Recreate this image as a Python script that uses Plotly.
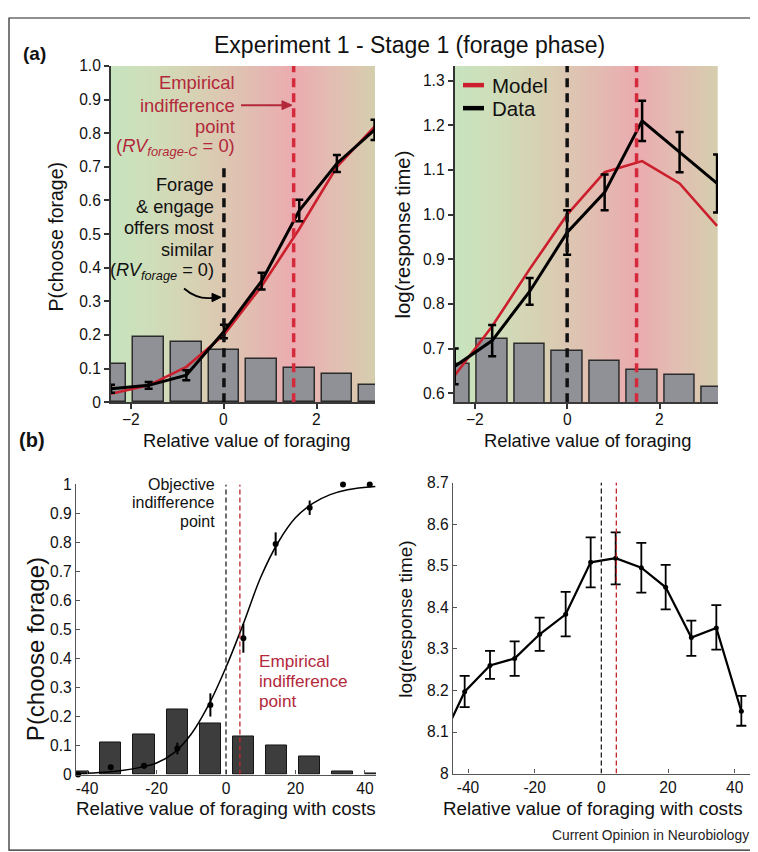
import numpy as np
import plotly.graph_objects as go

W, H = 758, 852


def fx(px):
    return px / W


def fy(py):
    return 1 - py / H


FONT = "Liberation Sans, Arial, Helvetica, sans-serif"
RED_TXT = "#b3283a"
RED_LINE = "#d42a3b"

# ---------------- data ----------------
# (a) Experiment 1 - Stage 1
rv_bins = [-2.43, -1.62, -0.81, 0.0, 0.81, 1.62, 2.43, 3.24]
rv_tick_vals = [-2, 0, 2]
rv_tick_text = ["\u22122", "0", "2"]

choice_hist = [0.115, 0.195, 0.178, 0.155, 0.128, 0.102, 0.085, 0.05]
choice_data = [0.04, 0.05, 0.08, 0.21, 0.36, 0.57, 0.71, 0.81]
choice_err = [0.012, 0.01, 0.015, 0.02, 0.025, 0.032, 0.025, 0.03]
choice_model = [0.025, 0.05, 0.105, 0.20, 0.345, 0.515, 0.70, 0.82]

rt_hist = [0.665, 0.722, 0.71, 0.695, 0.672, 0.652, 0.64, 0.613]
rt_data = [0.66, 0.718, 0.828, 0.96, 1.05, 1.21, 1.14, 1.07]
rt_err = [0.04, 0.035, 0.03, 0.05, 0.04, 0.045, 0.045, 0.065]
rt_model = [0.64, 0.75, 0.878, 1.0, 1.095, 1.12, 1.07, 0.975]

objective_rv = 0.0
empirical_rv = 1.5

choice_ticks = [0, 0.1, 0.2, 0.3, 0.4, 0.5, 0.6, 0.7, 0.8, 0.9, 1.0]
choice_tick_text = ["0", "0.1", "0.2", "0.3", "0.4", "0.5", "0.6", "0.7", "0.8", "0.9", "1.0"]
rt_ticks = [0.6, 0.7, 0.8, 0.9, 1.0, 1.1, 1.2, 1.3]
rt_tick_text = ["0.6", "0.7", "0.8", "0.9", "1.0", "1.1", "1.2", "1.3"]

# (b) with costs
cost_bins = [-42.7, -33.2, -23.6, -14.0, -4.5, 5.0, 14.5, 24.0, 33.5, 43.0]
cost_hist = [0.012, 0.11, 0.138, 0.225, 0.177, 0.132, 0.101, 0.064, 0.012, 0.005]

cost_choice_x = [-42.6, -33.2, -23.6, -14.0, -4.5, 5.0, 14.3, 24.1, 33.7, 41.4]
cost_choice = [0.0, 0.025, 0.03, 0.09, 0.24, 0.47, 0.795, 0.92, 1.0, 1.0]
cost_choice_err = [0.0, 0.005, 0.01, 0.02, 0.04, 0.05, 0.04, 0.025, 0.0, 0.0]

fit_x = [-43, -35, -30, -25, -20, -15, -10, -5, 0, 5, 10, 15, 20, 25, 30, 35, 43]
fit_y = [0.003, 0.008, 0.014, 0.024, 0.04, 0.075, 0.14, 0.24, 0.37, 0.52,
         0.68, 0.80, 0.885, 0.935, 0.965, 0.982, 0.993]

cost_rt_x = [-48.5, -41.0, -33.4, -26.0, -18.5, -10.7, -3.2, 4.3, 12.0, 19.3, 27.0, 34.5, 42.0]
cost_rt = [8.07, 8.197, 8.26, 8.277, 8.335, 8.383, 8.508, 8.518, 8.495, 8.448, 8.327, 8.35, 8.15]
cost_rt_hi = [8.07, 8.235, 8.295, 8.318, 8.375, 8.437, 8.568, 8.58, 8.555, 8.502, 8.368, 8.405, 8.187]
cost_rt_lo = [8.07, 8.16, 8.228, 8.235, 8.295, 8.33, 8.448, 8.455, 8.435, 8.395, 8.283, 8.298, 8.115]

objective_cost = 0.0
empirical_cost_choice = 4.0
empirical_cost_rt = 4.5

cost_tick_vals = [-40, -20, 0, 20, 40]
cost_tick_text = ["-40", "-20", "0", "20", "40"]
pc_ticks = [0, 0.1, 0.2, 0.3, 0.4, 0.5, 0.6, 0.7, 0.8, 0.9, 1.0]
pc_tick_text = ["0", "0.1", "0.2", "0.3", "0.4", "0.5", "0.6", "0.7", "0.8", "0.9", "1"]
lrt_ticks = [8.0, 8.1, 8.2, 8.3, 8.4, 8.5, 8.6, 8.7]
lrt_tick_text = ["8", "8.1", "8.2", "8.3", "8.4", "8.5", "8.6", "8.7"]

# ---------------- axis ranges ----------------
RV_RANGE = [-2.43, 3.25]
RV_RANGE2 = [-2.43, 3.26]
CHOICE_RANGE = [0, 1.0]
RT_RANGE = [0.58, 1.333]
COST_RANGE_L = [-43.2, 43.2]
COST_RANGE_R = [-44.5, 44.6]
PC_RANGE = [0, 1.0]
LRT_RANGE = [8.0, 8.7]

fig = go.Figure()

# ---------------- background gradients (style) ----------------
stops = [(-2.43, "rgb(198,228,190)"), (-1.6, "rgb(207,222,186)"), (-0.6, "rgb(215,209,179)"),
         (0.4, "rgb(224,192,177)"), (1.5, "rgb(235,171,176)"), (2.4, "rgb(226,190,178)"),
         (3.26, "rgb(213,206,174)")]
smin, smax = stops[0][0], stops[-1][0]
cscale = [[(v - smin) / (smax - smin), c] for v, c in stops]
edges = np.linspace(smin, smax, 161)
centers = (edges[:-1] + edges[1:]) / 2
for xa, ya, yr in [("x", "y", CHOICE_RANGE), ("x2", "y2", RT_RANGE)]:
    fig.add_trace(go.Heatmap(x=edges, y=yr, z=[centers], colorscale=cscale, zmin=smin, zmax=smax,
                             showscale=False, hoverinfo="skip", xaxis=xa, yaxis=ya))

# ---------------- (a) traces ----------------
bar_top = dict(color="#8f9197", line=dict(color="#2b2b2b", width=1.5))
fig.add_trace(go.Bar(x=rv_bins, y=choice_hist, width=0.66, marker=bar_top, xaxis="x", yaxis="y"))
fig.add_trace(go.Scatter(x=rv_bins, y=choice_model, mode="lines", line=dict(color="#cc1f2d", width=2.6),
                         xaxis="x", yaxis="y"))
fig.add_trace(go.Scatter(x=rv_bins, y=choice_data, mode="lines", line=dict(color="black", width=3),
                         error_y=dict(type="data", array=choice_err, color="black", thickness=2.5, width=4),
                         xaxis="x", yaxis="y"))

fig.add_trace(go.Bar(x=rv_bins, y=rt_hist, width=0.66, marker=bar_top, xaxis="x2", yaxis="y2"))
fig.add_trace(go.Scatter(x=rv_bins, y=rt_model, mode="lines", line=dict(color="#cc1f2d", width=2.6),
                         xaxis="x2", yaxis="y2"))
fig.add_trace(go.Scatter(x=rv_bins, y=rt_data, mode="lines", line=dict(color="black", width=3),
                         error_y=dict(type="data", array=rt_err, color="black", thickness=2.5, width=4),
                         xaxis="x2", yaxis="y2"))

# ---------------- (b) traces ----------------
fig.add_trace(go.Bar(x=cost_bins, y=cost_hist, width=6.2,
                     marker=dict(color="#3d3d3d", line=dict(color="#151515", width=1)),
                     xaxis="x3", yaxis="y3"))
fig.add_trace(go.Scatter(x=fit_x, y=fit_y, mode="lines", line=dict(color="black", width=1.5, shape="spline"),
                         xaxis="x3", yaxis="y3"))
fig.add_trace(go.Scatter(x=cost_choice_x, y=cost_choice, mode="markers", cliponaxis=False,
                         marker=dict(color="black", size=6),
                         error_y=dict(type="data", array=cost_choice_err, color="black", thickness=2, width=0),
                         xaxis="x3", yaxis="y3"))

err_up = [h - v for h, v in zip(cost_rt_hi, cost_rt)]
err_dn = [v - l for v, l in zip(cost_rt, cost_rt_lo)]
fig.add_trace(go.Scatter(x=cost_rt_x, y=cost_rt, mode="lines+markers",
                         line=dict(color="black", width=2.2), marker=dict(color="black", size=5),
                         error_y=dict(type="data", array=err_up, arrayminus=err_dn, color="black",
                                      thickness=1.8, width=5),
                         xaxis="x4", yaxis="y4"))

# ---------------- axes ----------------
def top_x(domain, rng, anchor):
    return dict(domain=domain, range=rng, anchor=anchor, tickvals=rv_tick_vals, ticktext=rv_tick_text,
                showticklabels=False,
                ticks="outside", ticklen=5, tickwidth=1.5, tickcolor="#333", showline=True,
                linecolor="#3a3a3a", linewidth=1.5, showgrid=False, zeroline=False,
                tickfont=dict(size=15.6, color="#111"))


def top_y(domain, rng, anchor, tv, tt):
    return dict(domain=domain, range=rng, anchor=anchor, tickvals=tv, ticktext=tt,
                ticks="outside", ticklen=5, tickwidth=1.5, tickcolor="#333", showline=True,
                linecolor="#333", linewidth=2, showgrid=False, zeroline=False,
                tickfont=dict(size=15.6, color="#111"))


def bot_x(domain, rng, anchor):
    return dict(domain=domain, range=rng, anchor=anchor, tickvals=cost_tick_vals, ticktext=cost_tick_text,
                ticks="inside", ticklen=4, tickcolor="#555", showline=True, linecolor="#555", linewidth=1.2,
                showgrid=False, zeroline=False, tickfont=dict(size=15.6, color="#111"))


def bot_y(domain, rng, anchor, tv, tt):
    return dict(domain=domain, range=rng, anchor=anchor, tickvals=tv, ticktext=tt,
                ticks="inside", ticklen=4, tickcolor="#555", showline=True, linecolor="#555", linewidth=1.2,
                showgrid=False, zeroline=False, tickfont=dict(size=15.6, color="#111"))


top_dom_y = [fy(393), fy(50)]
fig.update_layout(
    xaxis=top_x([fx(103), fx(367)], RV_RANGE, "y"),
    yaxis=top_y(top_dom_y, CHOICE_RANGE, "x", choice_ticks, choice_tick_text),
    xaxis2=top_x([fx(446.7), fx(710)], RV_RANGE2, "y2"),
    yaxis2=top_y(top_dom_y, RT_RANGE, "x2", rt_ticks, rt_tick_text),
    xaxis3=bot_x([fx(68), fx(368)], COST_RANGE_L, "y3"),
    yaxis3=bot_y([fy(773), fy(477)], PC_RANGE, "x3", pc_ticks, pc_tick_text),
    xaxis4=bot_x([fx(445), fx(742)], COST_RANGE_R, "y4"),
    yaxis4=bot_y([fy(772), fy(475)], LRT_RANGE, "x4", lrt_ticks, lrt_tick_text),
)

# ---------------- reference lines ----------------
shapes = []
thick = dict(width=3.5, dash="9px,6px")
shapes.append(dict(type="line", xref="x", yref="y", x0=objective_rv, x1=objective_rv, y0=0, y1=0.7,
                   line=dict(color="#111", **thick)))
shapes.append(dict(type="line", xref="x", yref="y", x0=empirical_rv, x1=empirical_rv, y0=0, y1=1.0,
                   line=dict(color=RED_LINE, **thick)))
shapes.append(dict(type="line", xref="x2", yref="y2", x0=objective_rv, x1=objective_rv,
                   y0=RT_RANGE[0], y1=RT_RANGE[1], line=dict(color="#111", **thick)))
shapes.append(dict(type="line", xref="x2", yref="y2", x0=empirical_rv, x1=empirical_rv,
                   y0=RT_RANGE[0], y1=RT_RANGE[1], line=dict(color=RED_LINE, **thick)))
thin = dict(width=1.3, dash="5px,3px")
shapes.append(dict(type="line", xref="x3", yref="y3", x0=objective_cost, x1=objective_cost, y0=0, y1=1,
                   line=dict(color="#222", **thin)))
shapes.append(dict(type="line", xref="x3", yref="y3", x0=empirical_cost_choice, x1=empirical_cost_choice,
                   y0=0, y1=1, line=dict(color="#c0262f", **thin)))
shapes.append(dict(type="line", xref="x4", yref="y4", x0=objective_cost, x1=objective_cost, y0=8, y1=8.7,
                   line=dict(color="#222", **thin)))
shapes.append(dict(type="line", xref="x4", yref="y4", x0=empirical_cost_rt, x1=empirical_cost_rt,
                   y0=8, y1=8.7, line=dict(color="#c0262f", **thin)))

# legend samples (manual)
shapes.append(dict(type="line", xref="paper", yref="paper", x0=fx(455), x1=fx(476), y0=fy(69.5), y1=fy(69.5),
                   line=dict(color="#cc1f2d", width=4.5)))
shapes.append(dict(type="line", xref="paper", yref="paper", x0=fx(455), x1=fx(476), y0=fy(93), y1=fy(93),
                   line=dict(color="black", width=4.5)))


def ppath(points, close=False):
    s = " ".join(("M" if i == 0 else "L") + f" {fx(x)},{fy(y)}" for i, (x, y) in enumerate(points))
    return s + (" Z" if close else "")


# red straight arrow
shapes.append(dict(type="line", xref="paper", yref="paper", x0=fx(233), x1=fx(276), y0=fy(90), y1=fy(90),
                   line=dict(color=RED_TXT, width=2)))
shapes.append(dict(type="path", xref="paper", yref="paper",
                   path=ppath([(284, 90), (274, 85.5), (274, 94.5)], True),
                   fillcolor=RED_TXT, line=dict(color=RED_TXT, width=1)))

# curved black arrow
p0, c0, p1 = (176, 277), (190, 289), (205, 286.5)
shapes.append(dict(type="path", xref="paper", yref="paper",
                   path=f"M {fx(p0[0])},{fy(p0[1])} Q {fx(c0[0])},{fy(c0[1])} {fx(p1[0])},{fy(p1[1])}",
                   line=dict(color="black", width=1.8)))
shapes.append(dict(type="path", xref="paper", yref="paper",
                   path=ppath([(213, 286), (204, 282), (204, 290.5)], True),
                   fillcolor="black", line=dict(color="black", width=1)))

# frame
shapes.append(dict(type="rect", xref="paper", yref="paper", x0=fx(1), x1=fx(753), y0=fy(850), y1=fy(1),
                   line=dict(color="#222", width=1.2)))

# ---------------- annotations ----------------
ann = []


def txt(x, y, s, size, color="#111", xanchor="center", angle=0):
    ann.append(dict(x=fx(x), y=fy(y), xref="paper", yref="paper", text=s, showarrow=False,
                    xanchor=xanchor, yanchor="middle", textangle=angle,
                    font=dict(family=FONT, size=size, color=color)))


# top x tick labels (placed on the data axes)
for xa in ["x", "x2"]:
    for v, t in zip(rv_tick_vals, rv_tick_text):
        ann.append(dict(x=v, y=fy(411), xref=xa, yref="paper", text=t, showarrow=False,
                        xanchor="center", yanchor="middle", font=dict(family=FONT, size=15.6, color="#111")))

txt(401, 29, "Experiment 1 - Stage 1 (forage phase)", 23)
txt(26, 37, "<b>(a)</b>", 19)
txt(24, 432, "<b>(b)</b>", 20)

# axis titles
txt(48, 224, "P(choose forage)", 19.5, angle=-90)
txt(395, 222, "log(response time)", 20.3, angle=-90)
txt(239, 432, "Relative value of foraging", 18.4)
txt(580, 432, "Relative value of foraging", 18.4)
txt(27, 645, "P(choose forage)", 24, angle=-90)
txt(398, 615, "log(response time)", 19, angle=-90)
txt(218, 808, "Relative value of foraging with costs", 18.8)
txt(585, 808, "Relative value of foraging with costs", 18.8)

# top-left red annotation
for yy, s in [(66.7, "Empirical"), (90, "indifference"), (111.7, "point"),
              (133, "(<i>RV</i><sub><i>forage-C</i></sub> = 0)")]:
    txt(229, yy, s, 18.4, RED_TXT, "right")
# top-left black annotation
for yy, s in [(171.7, "Forage"), (194, "&amp; engage"), (215, "offers most"), (237.3, "similar"),
              (260, "(<i>RV</i><sub><i>forage</i></sub> = 0)")]:
    txt(208, yy, s, 18.2, "#111", "right")

# legend text
txt(482, 69.5, "Model", 20.5, "#111", "left")
txt(482, 93, "Data", 20.5, "#111", "left")

# bottom-left annotations
for yy, s in [(476.7, "Objective"), (495.7, "indifference"), (514.3, "point")]:
    txt(209, yy, s, 16, "#111", "right")
for yy, s in [(656.7, "Empirical"), (677.7, "indifference"), (697.7, "point")]:
    txt(249, yy, s, 17.2, RED_TXT, "left")

txt(743, 835, "Current Opinion in Neurobiology", 13.8, "#222", "right")

fig.update_layout(
    width=W, height=H, margin=dict(l=0, r=0, t=0, b=0),
    paper_bgcolor="white", plot_bgcolor="white",
    showlegend=False, barmode="overlay", bargap=0,
    font=dict(family=FONT, color="#111"),
    shapes=shapes, annotations=ann,
)

fig.write_html("out.html")
